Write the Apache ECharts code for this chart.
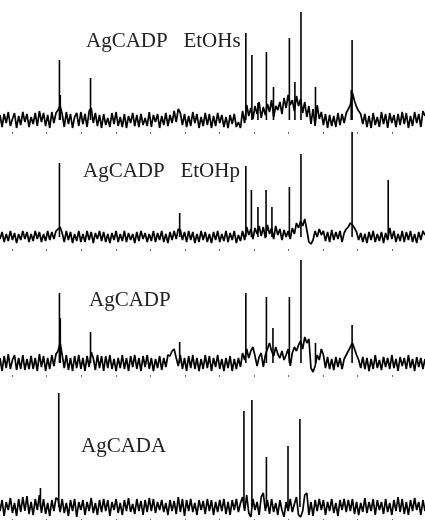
<!DOCTYPE html>
<html>
<head>
<meta charset="utf-8">
<script src="https://cdn.jsdelivr.net/npm/echarts@6/dist/echarts.min.js"></script>
<style>
html,body{margin:0;padding:0;background:#fff;}
#chart{width:425px;height:520px;}
</style>
</head>
<body>
<div id="chart"></div>
<script>
// shift axis in ppm, drawn from high to low
var ppmTicks = [0, 20, 40, 60, 80, 100, 120, 140, 160, 180, 200, 220];

// baseline noise, sampled every 1.2 ppm starting at 227 ppm
var noiseStart = 227, noiseStep = 1.2;
var noise1 = [5,-7,6,-3,8,-6,1,7,-8,4, -5,8,-2,6,-7,3,-4,7,-6,9,
	-2,7,-6,5,-8,8,-3,7,10,14, 6,-7,8,-4,6,-8,3,7,-6,8,
	-4,6,-7,9,12,-3,7,-6,5,-8, 6,-5,2,-7,7,-4,8,-6,3,-7,
	6,-8,4,-3,7,-6,5,-7,6,-5, 2,-6,8,-7,5,-2,6,-8,4,-5,
	7,-6,5,-3,9,-2,11,7,-5,6, -7,4,-6,8,-3,6,-8,3,-6,7,
	-5,6,-8,4,-6,7,-3,5,-7,3, -8,5,-4,6,-7,-2,-8,
	9,-3,15,4,12,1,14,6,18,2,13,5,16,8,20,3,14,10,18,6,22,12,25,15,20,9,24,14,21,7,18,3,14,-4,11,-6,15,1,8,
	-5,6,-8,5,-6,4,-7,7,-5,6, -3,7,11,15,27,19,13,9,6,-4,
	6,-7,4,-8,7,-5,3,-7,8,-4, 6,-8,7,-3,5,-7,6,-5,8,-4,
	7,-8,4,-6,8,-3,6,-7,9,4];
var noise2 = [-2,5,-5,3,-4,6,-3,4,-6,3, -3,6,-2,5,-5,3,-4,6,-2,5,
	-5,3,-4,6,-3,5,-2,6,8,10, 4,-5,6,-3,5,-6,3,-4,6,-5,
	3,-5,6,-3,5,-6,4,-2,6,-4, 5,-5,3,-6,4,-3,6,-5,3,-4,
	6,-5,4,-3,3,-6,5,-4,6,-2, 4,-5,3,-4,6,-5,4,-3,6,-5,
	3,-6,5,-3,6,-2,8,7,-3,5, -5,6,-3,5,-6,3,-5,6,-3,5,
	-5,3,-6,5,-3,6,-5,3,-4,6, -5,4,-3,6,-6,2,-4,
	6,-3,10,2,8,-2,9,3,11,1,10,-1,12,3,9,-2,11,2,8,-3,7,0,6,-2,9,3,14,9,16,11,18,7,-5,-7,-3,6,0,8,2,
	6,-4,5,-5,7,-3,5,-2,6,-5, 4,8,10,14,12,9,5,-3,4,-5,
	3,-6,5,-3,6,-5,3,-4,5,-6, 4,-3,9,-2,6,-5,3,-4,6,-5,
	5,-3,6,-5,3,-6,5,-3,6,2];
var noise3 = [5,-8,7,-5,9,-6,3,8,-7,5, -6,8,-7,4,-6,7,-6,5,-8,9,
	-4,7,-8,5,-6,8,-3,9,12,20, 8,-5,8,-7,5,-8,7,-5,8,-6,
	5,-8,7,-4,11,5,-7,8,-5,7, -8,7,-5,8,-6,4,-8,5,-5,8,
	-6,5,-8,7,-4,8,-6,5,-8,7, -4,8,-6,5,-8,4,-5,7,-7,5,
	-4,8,7,12,14,5,-3,8,-6,5, -8,7,-5,8,-6,5,-8,4,-6,8,
	-5,7,-8,5,-4,8,-6,4,-8,5, -5,7,-8,4,-6,5,-4,
	10,3,14,5,12,16,7,-3,6,10,-4,8,14,20,12,7,16,9,5,12,3,8,14,-3,10,16,12,18,22,14,26,20,24,-5,-9,-3,8,3,14,
	8,-5,6,-6,4,-7,6,-4,5,-6, 4,8,12,16,20,14,8,3,-5,6,
	-6,5,-8,4,-6,8,-5,3,-7,6, -4,5,-6,8,-5,4,-8,6,-3,5,
	-6,8,-5,4,-8,6,-4,5,-6,4];
var noise4 = [-4,7,-9,5,-3,9,-6,4,-9,8, -5,10,-4,11,-7,5,-8,8,-3,12,
	-6,8,-7,4,-9,7,-4,9,8,-5, 8,-6,4,-9,7,-4,8,-10,5,-3,
	7,-8,5,-4,9,-6,4,-8,7,-5, 8,-4,7,-9,5,-3,8,-6,4,-8,
	7,-4,9,-5,3,-7,8,-4,6,-8, 7,-5,9,-4,8,-6,5,-3,7,-5,
	4,-8,7,-4,6,-7,10,-5,8,-9, 7,-4,8,-5,4,-8,7,-3,6,-7,
	8,-4,7,-8,5,-5,7,-4,8,-7, 5,-8,7,-3,8,-5,4,
	10,-4,12,-6,-10,8,-3,5,-8,10,14,-4,7,-7,8,-5,4,-8,7,-3,-10,5,-4,8,-5,3,10,-8,-10,-4,12,14,-8,5,-9,7,-4,8,-3,
	7,-8,5,-4,8,-6,4,-9,7,-3, 8,-5,7,-4,8,-7,5,-8,4,-5,
	9,-6,5,-4,8,-8,7,-3,5,-7, 8,-5,4,-8,7,-4,10,-5,8,-7,
	5,-8,7,-4,9,-3,5,-8,7,-4];

// sharp lines: [ppm, height]
var peaks1 = [[192.6,60],[192.1,25],[174.6,42],[84.7,87],[81.2,65],[77.7,17],[72.8,68],
	[68.7,33],[59.5,82],[56.3,38],[52.8,108],[44.4,33],[23.2,80],[23.7,30]];
var peaks2 = [[192.6,74],[123,24],[84.7,71],[81.5,47],[77.7,30],[73,47],[69.6,30],
	[59.5,50],[52.8,83],[23.2,105],[2.3,57]];
var peaks3 = [[192.6,70],[192.1,45],[174.6,31],[123,21],[84.7,70],[72.8,66],[69,35],
	[59.5,66],[52.8,103],[44.4,20],[23.2,38]];
var peaks4 = [[203.6,19],[193,114],[85.8,96],[81.2,107],[72.8,50],[60.3,61],[53.4,88]];

var names = ['AgCADP   EtOHs', 'AgCADP   EtOHp', 'AgCADP', 'AgCADA'];

var noises = [noise1, noise2, noise3, noise4];
var peaks = [peaks1, peaks2, peaks3, peaks4];

// layout: baseline pixel of each trace, label position
var baseY = [120, 237, 363, 507];
var labelPos = [[86, 43], [83, 173], [89, 302], [81, 448]];

var myChart = echarts.init(document.getElementById('chart'));

var grids = [], xAxes = [], yAxes = [], series = [], texts = [];
for (var k = 0; k < 4; k++) {
	grids.push({left: 0, right: 0, top: baseY[k] - 115, height: 127});
	xAxes.push({
		type: 'value', gridIndex: k, min: -19, max: 227, inverse: true,
		splitLine: {show: false},
		axisLine: {show: false, onZero: false},
		axisLabel: {show: false, customValues: ppmTicks},
		axisTick: {show: true, customValues: ppmTicks, length: 2, lineStyle: {color: '#666', width: 1}}
	});
	yAxes.push({type: 'value', gridIndex: k, min: -12, max: 115, show: false});

	var line = [];
	for (var i = 0; i < noises[k].length; i++) {
		line.push([noiseStart - i * noiseStep, noises[k][i]]);
	}
	series.push({
		type: 'line', xAxisIndex: k, yAxisIndex: k, data: line,
		symbol: 'none', silent: true, animation: false,
		lineStyle: {color: '#000', width: 1.7}
	});
	series.push({
		type: 'bar', xAxisIndex: k, yAxisIndex: k, data: peaks[k],
		barWidth: 1.6, silent: true, animation: false,
		itemStyle: {color: '#000'}
	});
	texts.push({
		type: 'text', left: labelPos[k][0], top: labelPos[k][1] - 12,
		style: {text: names[k], font: '21px "Liberation Serif", serif', fill: '#222'}
	});
}

var option = {
	animation: false,
	grid: grids,
	xAxis: xAxes,
	yAxis: yAxes,
	series: series,
	graphic: texts
};
myChart.setOption(option);
</script>
</body>
</html>
